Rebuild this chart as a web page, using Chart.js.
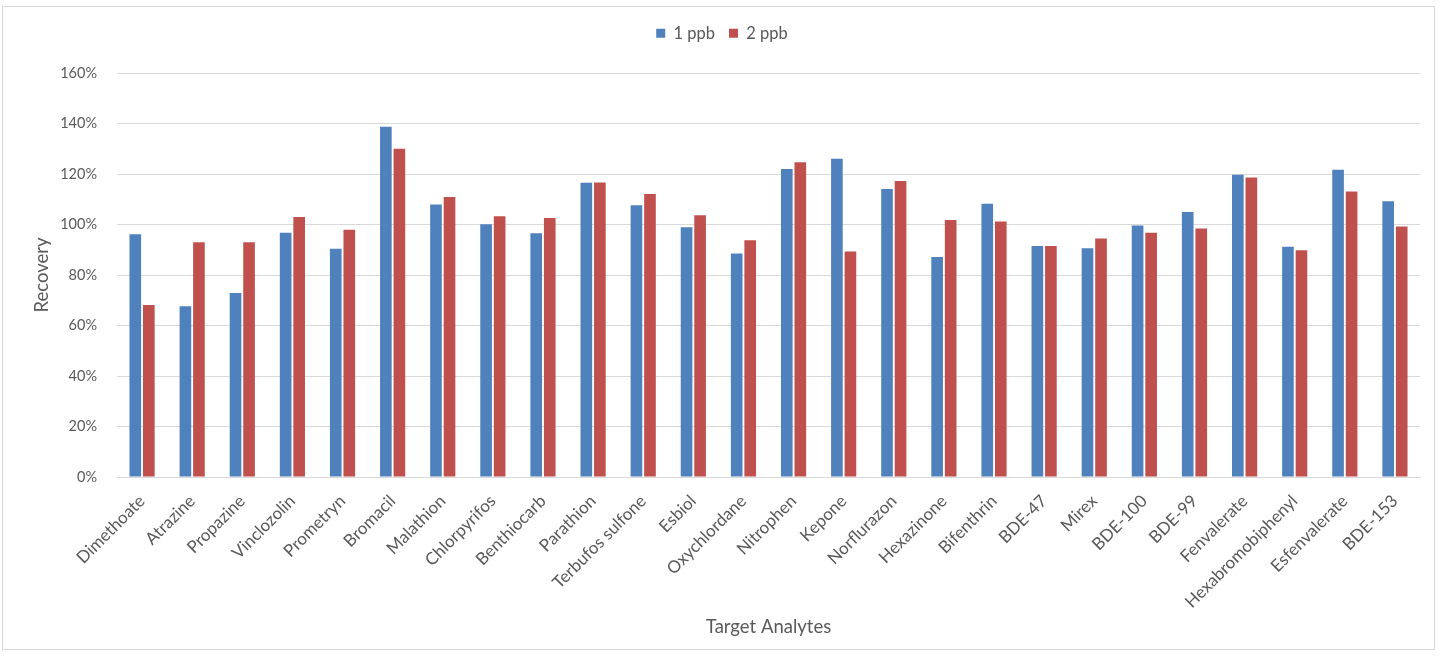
<!DOCTYPE html>
<html>
<head>
<meta charset="utf-8">
<title>Recovery by Target Analyte</title>
<script src="https://cdn.jsdelivr.net/npm/chart.js@4/dist/chart.umd.min.js"></script>
<style>
  html, body { margin: 0; padding: 0; background: #ffffff; }
  #wrap { position: relative; width: 1445px; height: 658px; }
  #frame {
    position: absolute; left: 2px; top: 6px; width: 1433px; height: 644px;
    border: 1px solid #d9d9d9; pointer-events: none; box-sizing: border-box;
  }
  canvas { position: absolute; left: 0; top: 0; }
</style>
</head>
<body>
<div id="wrap">
  <canvas id="chart" width="1445" height="658"></canvas>
  <div id="frame"></div>
</div>
<script>
// Analytes on the x axis
const analytes = [
  'Dimethoate', 'Atrazine', 'Propazine', 'Vinclozolin', 'Prometryn', 'Bromacil',
  'Malathion', 'Chlorpyrifos', 'Benthiocarb', 'Parathion', 'Terbufos sulfone',
  'Esbiol', 'Oxychlordane', 'Nitrophen', 'Kepone', 'Norflurazon', 'Hexazinone',
  'Bifenthrin', 'BDE-47', 'Mirex', 'BDE-100', 'BDE-99', 'Fenvalerate',
  'Hexabromobiphenyl', 'Esfenvalerate', 'BDE-153'
];

// Recovery (%) at 1 ppb spike level
const recovery1ppb = [
  96.1, 67.6, 72.9, 96.7, 90.4, 138.7, 107.9, 100.1, 96.5, 116.5, 107.6,
  98.9, 88.5, 122.0, 126.0, 114.1, 87.1, 108.2, 91.5, 90.6, 99.6, 105.0,
  119.7, 91.2, 121.7, 109.2
];

// Recovery (%) at 2 ppb spike level
const recovery2ppb = [
  68.1, 93.0, 93.0, 103.0, 97.9, 130.0, 110.9, 103.3, 102.6, 116.6, 112.1,
  103.7, 93.8, 124.7, 89.3, 117.2, 101.8, 101.2, 91.5, 94.5, 96.7, 98.4,
  118.6, 89.8, 113.1, 99.2
];

// Y axis tick values (%)
const yTicks = [0, 20, 40, 60, 80, 100, 120, 140, 160];

const textColor = '#595959';
const gridColor = '#d9d9d9';
const fontFamily = 'Lato, "Open Sans", "Liberation Sans", sans-serif';

const PAD = { left: 24, right: 25, top: 11, bottom: 14 };
const CANVAS_H = 658;
const PLOT_LEFT = 117, PLOT_TOP = 73, PLOT_BOTTOM = 477;

// Fixes the legend band height so the plot starts at a set offset.
const legendBand = {
  id: 'legendBand',
  afterInit(chart) {
    const lg = chart.legend;
    if (!lg) return;
    const fit = lg.fit.bind(lg);
    lg.fit = function () {
      fit();
      this.height = PLOT_TOP - PAD.top;
      this.minSize = { width: this.width, height: this.height };
    };
  }
};

new Chart(document.getElementById('chart'), {
  type: 'bar',
  data: {
    labels: analytes,
    datasets: [
      { label: '1 ppb', data: recovery1ppb, backgroundColor: '#4F81BD' },
      { label: '2 ppb', data: recovery2ppb, backgroundColor: '#C0504D' }
    ]
  },
  plugins: [legendBand],
  options: {
    responsive: false,
    animation: false,
    devicePixelRatio: 1,
    layout: { padding: PAD },
    datasets: { bar: { categoryPercentage: 0.54, barPercentage: 0.86 } },
    plugins: {
      tooltip: { enabled: false },
      legend: {
        position: 'top',
        labels: {
          color: textColor,
          font: { family: fontFamily, size: 16.5 },
          boxWidth: 9,
          boxHeight: 9,
          padding: 14
        }
      }
    },
    scales: {
      x: {
        afterFit: (scale) => { scale.height = CANVAS_H - PAD.bottom - PLOT_BOTTOM; },
        grid: { display: false, drawTicks: false },
        border: { display: true, color: gridColor, width: 1 },
        ticks: {
          color: textColor,
          font: { family: fontFamily, size: 17 },
          autoSkip: false,
          maxRotation: 45,
          minRotation: 45,
          padding: 14
        },
        title: {
          display: true,
          text: 'Target Analytes',
          color: textColor,
          font: { family: fontFamily, size: 18.5 },
          padding: { top: 10, bottom: 6 }
        }
      },
      y: {
        min: 0,
        max: 160,
        afterFit: (scale) => { scale.width = PLOT_LEFT - PAD.left; },
        afterBuildTicks: (scale) => { scale.ticks = yTicks.map(v => ({ value: v })); },
        grid: { color: gridColor, lineWidth: 1, drawTicks: false },
        border: { display: false },
        ticks: {
          color: textColor,
          font: { family: fontFamily, size: 14.5 },
          padding: 20,
          callback: (v) => v + '%'
        },
        title: {
          display: true,
          text: 'Recovery',
          color: textColor,
          font: { family: fontFamily, size: 18.5 },
          padding: { top: 7, bottom: 0 }
        }
      }
    }
  }
});
</script>
</body>
</html>
